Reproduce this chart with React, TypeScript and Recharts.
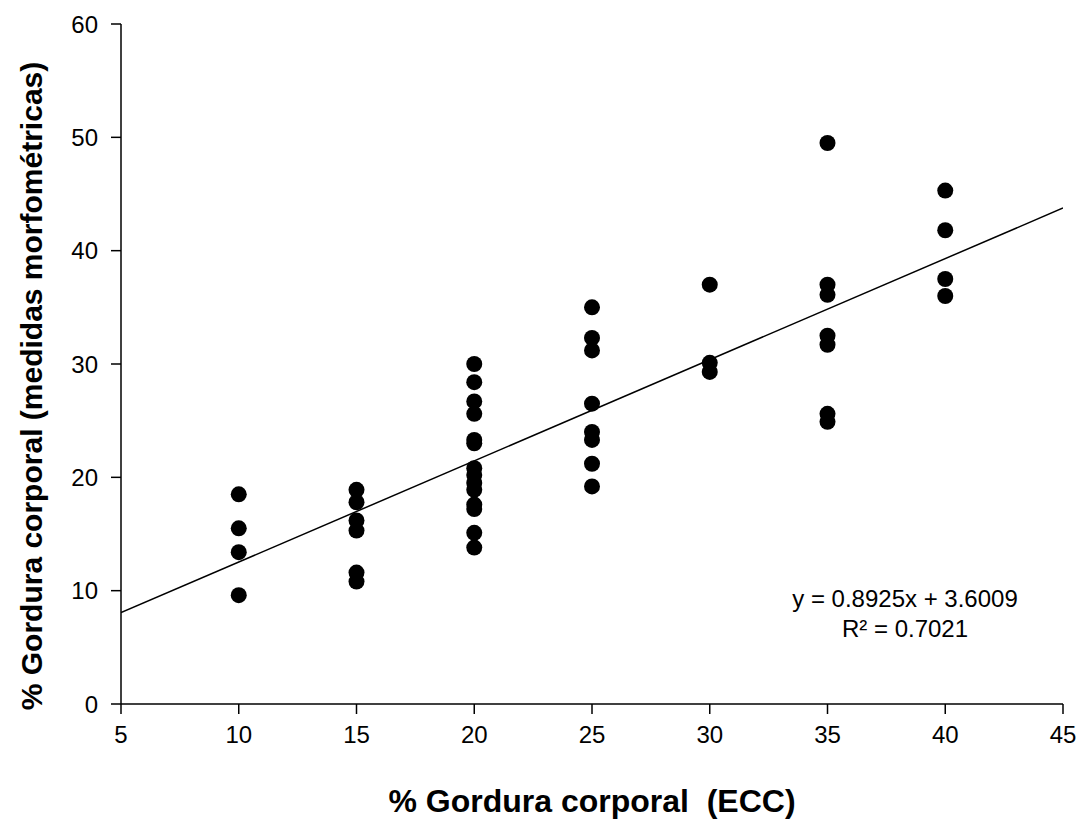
import React from "react";
import { ScatterChart, Scatter, XAxis, YAxis } from "recharts";

// ECC categories (x) and the measured values (y) at each category
const at10 = [18.5, 15.5, 13.4, 9.6];
const at15 = [18.9, 17.8, 16.2, 15.3, 11.6, 10.8];
const at20 = [30.0, 28.4, 26.7, 25.6, 23.3, 23.0, 20.8, 20.2, 19.5, 18.9, 17.6, 17.2, 15.1, 13.8];
const at25 = [35.0, 32.3, 31.2, 26.5, 24.0, 23.3, 21.2, 19.2];
const at30 = [37.0, 30.1, 29.3];
const at35 = [49.5, 37.0, 36.1, 32.5, 31.7, 25.6, 24.9];
const at40 = [45.3, 41.8, 37.5, 36.0];

const groups: [number, number[]][] = [
  [10, at10],
  [15, at15],
  [20, at20],
  [25, at25],
  [30, at30],
  [35, at35],
  [40, at40],
];

const xTicks = [5, 10, 15, 20, 25, 30, 35, 40, 45];
const yTicks = [0, 10, 20, 30, 40, 50, 60];

const slope = 0.8925;
const intercept = 3.6009;
const trendX = [5, 45];

const points = groups.flatMap(([x, ys]) => ys.map((y) => ({ x, y })));
const trend = trendX.map((x) => ({ x, y: slope * x + intercept }));

const FONT = '"Liberation Sans", Arial, sans-serif';

const Dot = (props: any) => <circle cx={props.cx} cy={props.cy} r={8} fill="#000" />;
const NoDot = () => <g />;

export default function App() {
  return (
    <div style={{ position: "absolute", left: 0, top: 0, width: 1081, height: 820, background: "#fff" }}>
      <ScatterChart width={1081} height={820} margin={{ top: 24, right: 18, left: 0, bottom: 56 }}>
        <XAxis
          type="number"
          dataKey="x"
          domain={[5, 45]}
          ticks={xTicks}
          allowDataOverflow
          height={60}
          tickSize={10}
          tickMargin={12}
          axisLine={{ stroke: "#000", strokeWidth: 1.5 }}
          tickLine={{ stroke: "#000", strokeWidth: 1.5 }}
          tick={{ fill: "#000", fontSize: 24, fontFamily: FONT }}
        />
        <YAxis
          type="number"
          dataKey="y"
          domain={[0, 60]}
          ticks={yTicks}
          allowDataOverflow
          width={121}
          tickSize={10}
          tickMargin={13}
          axisLine={{ stroke: "#000", strokeWidth: 1.5 }}
          tickLine={{ stroke: "#000", strokeWidth: 1.5 }}
          tick={{ fill: "#000", fontSize: 24, fontFamily: FONT }}
        />
        <Scatter data={trend} line={{ stroke: "#000", strokeWidth: 1.5 }} shape={NoDot} isAnimationActive={false} />
        <Scatter data={points} shape={Dot} isAnimationActive={false} />
      </ScatterChart>
      <svg
        width={1081}
        height={820}
        style={{ position: "absolute", left: 0, top: 0, pointerEvents: "none" }}
        fontFamily={FONT}
      >
        <text x={592} y={812} textAnchor="middle" fontSize={32} fontWeight="bold" fill="#000" style={{ whiteSpace: "pre" }}>
          {"% Gordura corporal  (ECC)"}
        </text>
        <text
          x={42}
          y={386}
          textAnchor="middle"
          fontSize={30}
          fontWeight="bold"
          fill="#000"
          transform="rotate(-90, 42, 386)"
        >
          % Gordura corporal (medidas morfométricas)
        </text>
        <text x={905} y={607} textAnchor="middle" fontSize={24} fill="#000">
          y = 0.8925x + 3.6009
        </text>
        <text x={905} y={637} textAnchor="middle" fontSize={24} fill="#000">
          R² = 0.7021
        </text>
      </svg>
    </div>
  );
}
